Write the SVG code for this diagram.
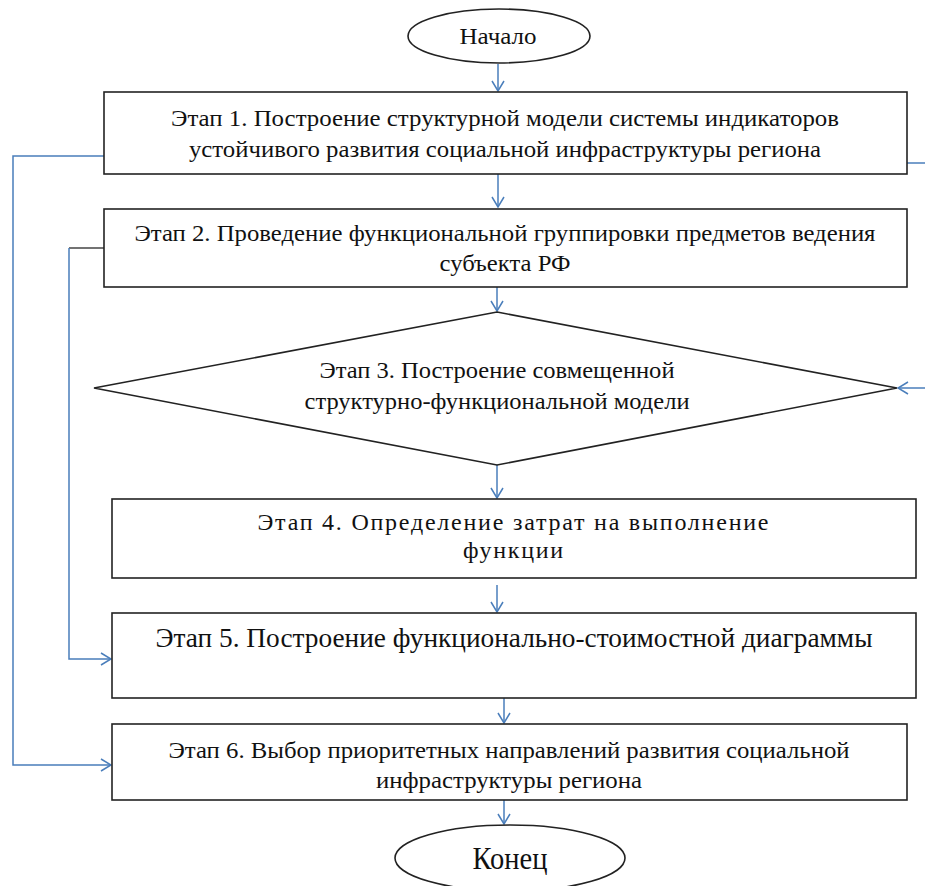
<svg xmlns="http://www.w3.org/2000/svg" width="925" height="886" viewBox="0 0 925 886">
<defs>
<marker id="arr" viewBox="0 0 12 14" refX="11" refY="7" markerWidth="12" markerHeight="14" markerUnits="userSpaceOnUse" orient="auto">
<path d="M1,1 L11,7 L1,13" fill="none" stroke="#4a7ebb" stroke-width="1.5"/>
</marker>
</defs>
<style>
.shape{fill:#fff;stroke:#222;stroke-width:1.6}
.t{font-family:"Liberation Serif","DejaVu Serif",serif;fill:#111;text-anchor:middle}
.c{fill:none;stroke:#4a7ebb;stroke-width:1.5}
.cd{fill:none;stroke:#444;stroke-width:1.5}
</style>
<rect width="925" height="886" fill="#fff"/>
<g id="connectors">
<line class="c" x1="498" y1="64" x2="498" y2="91" marker-end="url(#arr)"/>
<line class="c" x1="498" y1="174" x2="498" y2="207" marker-end="url(#arr)"/>
<line class="c" x1="497" y1="287" x2="497" y2="311" marker-end="url(#arr)"/>
<line class="c" x1="497" y1="465" x2="497" y2="498" marker-end="url(#arr)"/>
<line class="c" x1="497" y1="585" x2="497" y2="612" marker-end="url(#arr)"/>
<line class="c" x1="504" y1="698" x2="504" y2="723" marker-end="url(#arr)"/>
<line class="c" x1="504" y1="800" x2="504" y2="824" marker-end="url(#arr)"/>
<polyline class="c" points="104,156 13,156 13,765 111,765" marker-end="url(#arr)"/>
<line class="cd" x1="104" y1="248" x2="69" y2="248"/>
<polyline class="c" points="69,248 69,659 111,659" marker-end="url(#arr)"/>
<line class="c" x1="907" y1="163" x2="925" y2="163"/>
<line class="c" x1="925" y1="388" x2="898" y2="388" marker-end="url(#arr)"/>
</g>
<g id="start">
<ellipse class="shape" cx="499" cy="36" rx="91" ry="27"/>
<text class="t" x="498" y="44" font-size="23" textLength="77" lengthAdjust="spacingAndGlyphs">Начало</text>
</g>
<g id="step1">
<rect class="shape" x="104" y="92" width="803" height="82"/>
<text class="t" x="505" y="126" font-size="24" textLength="668" lengthAdjust="spacingAndGlyphs">Этап 1. Построение структурной модели системы индикаторов</text>
<text class="t" x="505" y="157" font-size="24" textLength="632" lengthAdjust="spacingAndGlyphs">устойчивого развития социальной инфраструктуры региона</text>
</g>
<g id="step2">
<rect class="shape" x="104" y="209" width="803" height="78"/>
<text class="t" x="505" y="241" font-size="24" textLength="741" lengthAdjust="spacingAndGlyphs">Этап 2. Проведение функциональной группировки предметов ведения</text>
<text class="t" x="505" y="271" font-size="24" textLength="131" lengthAdjust="spacingAndGlyphs">субъекта РФ</text>
</g>
<g id="step3">
<polygon class="shape" points="497,312 897,388 497,465 94,388"/>
<text class="t" x="497" y="378" font-size="24" textLength="355" lengthAdjust="spacingAndGlyphs">Этап 3. Построение совмещенной</text>
<text class="t" x="497" y="409" font-size="24" textLength="385" lengthAdjust="spacingAndGlyphs">структурно-функциональной модели</text>
</g>
<g id="step4">
<rect class="shape" x="112" y="499" width="804" height="79"/>
<text class="t" x="513" y="530" font-size="24" textLength="511" lengthAdjust="spacing">Этап 4. Определение затрат на выполнение</text>
<text class="t" x="513" y="558" font-size="24" textLength="100" lengthAdjust="spacing">функции</text>
</g>
<g id="step5">
<rect class="shape" x="112" y="613" width="804" height="85"/>
<text class="t" x="514" y="647" font-size="28" textLength="717" lengthAdjust="spacingAndGlyphs">Этап 5. Построение функционально-стоимостной диаграммы</text>
</g>
<g id="step6">
<rect class="shape" x="112" y="724" width="795" height="76"/>
<text class="t" x="509" y="758" font-size="24" textLength="681" lengthAdjust="spacingAndGlyphs">Этап 6. Выбор приоритетных направлений развития социальной</text>
<text class="t" x="509" y="788" font-size="24" textLength="266" lengthAdjust="spacingAndGlyphs">инфраструктуры региона</text>
</g>
<g id="end">
<ellipse class="shape" cx="510" cy="858" rx="115" ry="33"/>
<text class="t" x="510" y="869" font-size="31" textLength="75" lengthAdjust="spacingAndGlyphs">Конец</text>
</g>
</svg>
